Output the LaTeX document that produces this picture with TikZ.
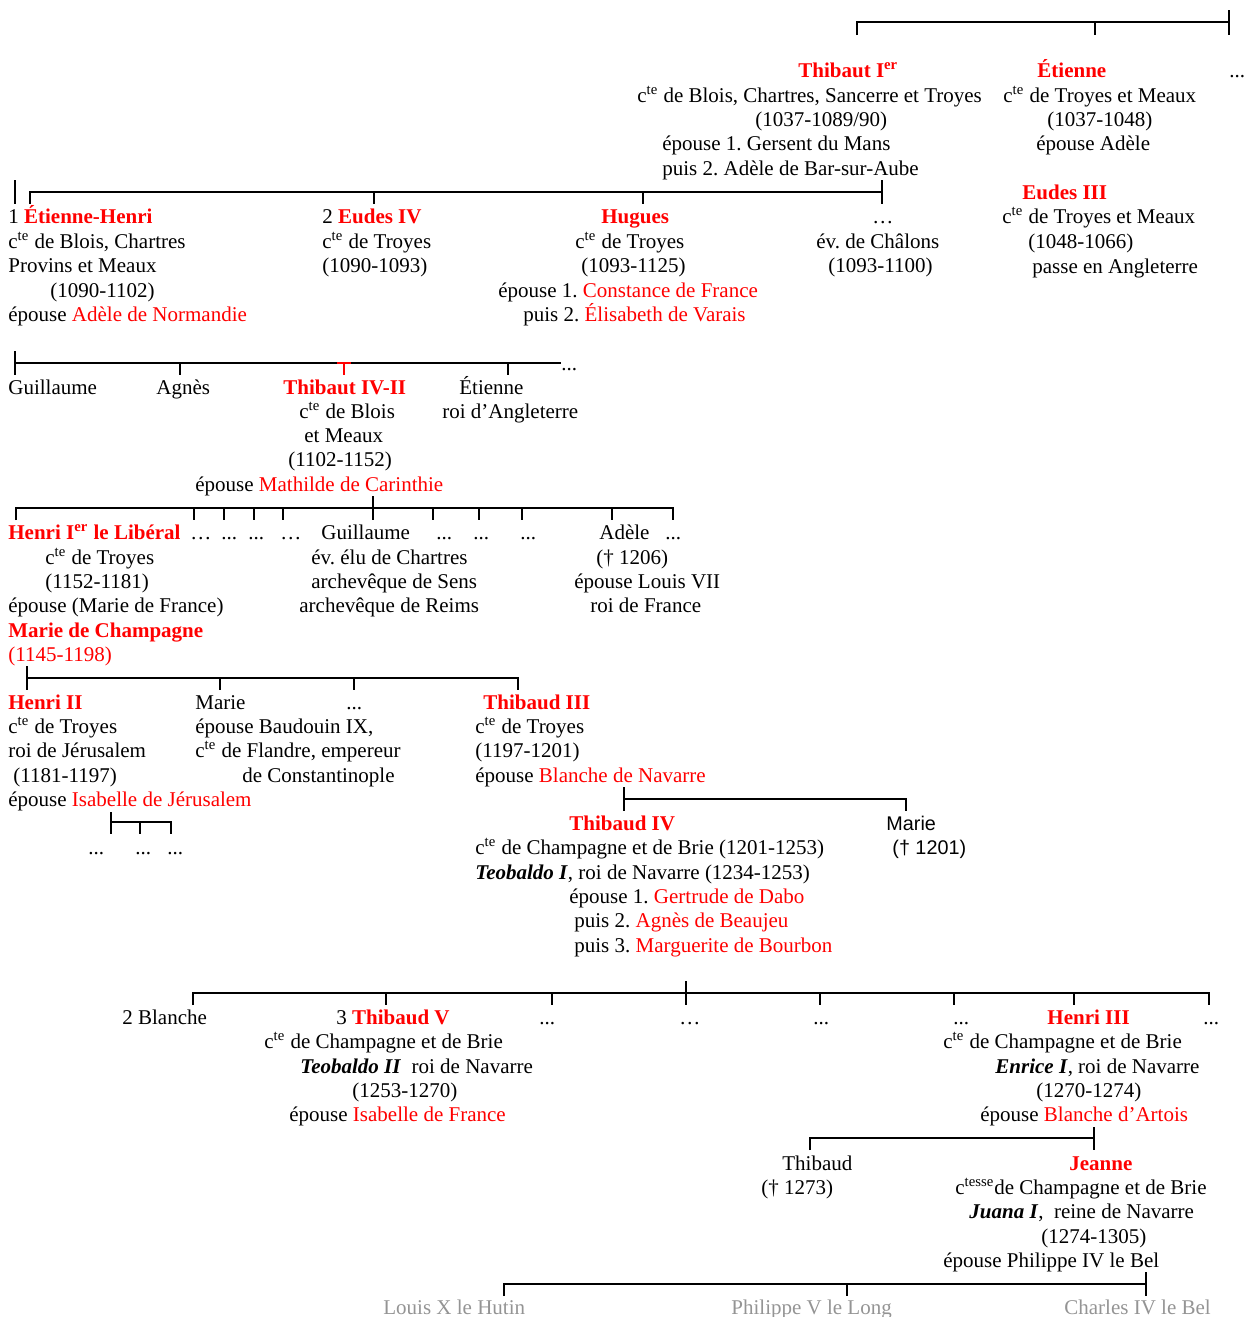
\documentclass[tikz,border=0pt]{standalone}
\usepackage{fontspec}
\setmainfont{Liberation Serif}
\newfontfamily\arial{Liberation Sans}
\usepackage{tikz}
\frenchspacing
\newcommand{\rednm}[1]{\textcolor{red}{\bfseries #1}}
\newcommand{\redtx}[1]{\textcolor{red}{#1}}
\newcommand{\cte}{c\textsuperscript{te}}
\begin{document}
\begin{tikzpicture}[line cap=butt,line join=miter,x=0.5pt,y=-0.5pt,
  lbl/.style={anchor=base west,inner sep=0pt,font=\fontsize{10.5}{12.25}\selectfont},
  nm/.style={lbl,text=red,font=\fontsize{10.5}{12.25}\selectfont\bfseries},
  kin/.style={lbl,text=black!42},
  bar/.style={line width=1pt}]
\useasboundingbox (0,0) rectangle (1243,1317);
% generation 1
\draw[bar] (857,35)--(857,22)--(1229,22) (1095,22)--(1095,35) (1229,10)--(1229,35);
\node[nm] (thib1) at (798,77) {Thibaut I\textsuperscript{er}};
\node[lbl] (thib1a) at (637,102) {\cte{} de Blois, Chartres, Sancerre et Troyes};
\node[lbl] (thib1b) at (755,126) {(1037-1089/90)};
\node[lbl] (thib1c) at (662,150) {épouse 1. Gersent du Mans};
\node[lbl] (thib1d) at (662,175) {puis 2. Adèle de Bar-sur-Aube};
\node[nm] (etie) at (1037,77) {Étienne};
\node[lbl] (etiea) at (1003,102) {\cte{} de Troyes et Meaux};
\node[lbl] (etieb) at (1047,126) {(1037-1048)};
\node[lbl] (etiec) at (1036,150) {épouse Adèle};
\node[lbl] (etc1) at (1229,77) {...};
\node[nm] (eud3) at (1022,199) {Eudes III};
\node[lbl] (eud3a) at (1002,223) {\cte{} de Troyes et Meaux};
\node[lbl] (eud3b) at (1028,248) {(1048-1066)};
\node[lbl] (eud3c) at (1032,273) {passe en Angleterre};
% generation 2
\draw[bar] (15,180)--(15,204);
\draw[bar] (30,204)--(30,192)--(882,192) (374,192)--(374,204) (643,192)--(643,204) (882,180)--(882,204);
\node[lbl] (ehen) at (8,223) {1 \rednm{Étienne-Henri}};
\node[lbl] (ehena) at (8,248) {\cte{} de Blois, Chartres};
\node[lbl] (ehenb) at (8,272) {Provins et Meaux};
\node[lbl] (ehenc) at (50,297) {(1090-1102)};
\node[lbl] (ehend) at (8,321) {épouse \redtx{Adèle de Normandie}};
\node[lbl] (eud4) at (322,223) {2 \rednm{Eudes IV}};
\node[lbl] (eud4a) at (322,248) {\cte{} de Troyes};
\node[lbl] (eud4b) at (322,272) {(1090-1093)};
\node[nm] (hug) at (601,223) {Hugues};
\node[lbl] (huga) at (575,248) {\cte{} de Troyes};
\node[lbl] (hugb) at (581,272) {(1093-1125)};
\node[lbl] (hugc) at (498,297) {épouse 1. \redtx{Constance de France}};
\node[lbl] (hugd) at (523,321) {puis 2. \redtx{Élisabeth de Varais}};
\node[lbl] (etc2) at (872,223) {…};
\node[lbl] (etc2a) at (816,248) {év. de Châlons};
\node[lbl] (etc2b) at (828,272) {(1093-1100)};
% generation 3
\draw[bar] (15,351)--(15,375) (15,363)--(561,363) (180,363)--(180,375) (508,363)--(508,375);
\draw[bar,red] (337,363)--(351,363) (344,363)--(344,375);
\node[lbl] (etc3) at (561,370) {...};
\node[lbl] (guil) at (8,394) {Guillaume};
\node[lbl] (agn) at (156,394) {Agnès};
\node[nm] (thib4) at (283,394) {Thibaut IV-II};
\node[lbl] (thib4a) at (299,418) {\cte{} de Blois};
\node[lbl] (thib4b) at (304,442) {et Meaux};
\node[lbl] (thib4c) at (288,466) {(1102-1152)};
\node[lbl] (thib4d) at (195,491) {épouse \redtx{Mathilde de Carinthie}};
\node[lbl] (etang) at (459,394) {Étienne};
\node[lbl] (etanga) at (442,418) {roi d’Angleterre};
% generation 4
\draw[bar] (16,520)--(16,508)--(673,508)--(673,520) (373,496)--(373,520);
\foreach \tx in {194,224,254,283,433,479,522,612}
  \draw[bar] (\tx,508)--(\tx,520);
\node[nm] (hen1) at (8,539) {Henri I\textsuperscript{er} le Libéral};
\node[lbl] (hen1a) at (45,564) {\cte{} de Troyes};
\node[lbl] (hen1b) at (45,588) {(1152-1181)};
\node[lbl] (hen1c) at (8,612) {épouse (Marie de France)};
\node[nm] (mchp) at (8,637) {Marie de Champagne};
\node[lbl,text=red] (mchpa) at (8,661) {(1145-1198)};
\node[lbl] (etc4a) at (190,539) {…};
\node[lbl] (etc4b) at (221,539) {...};
\node[lbl] (etc4c) at (248,539) {...};
\node[lbl] (etc4d) at (280,539) {…};
\node[lbl] (guil2) at (321,539) {Guillaume};
\node[lbl] (guil2a) at (311,564) {év. élu de Chartres};
\node[lbl] (guil2b) at (311,588) {archevêque de Sens};
\node[lbl] (guil2c) at (299,612) {archevêque de Reims};
\node[lbl] (etc4e) at (436,539) {...};
\node[lbl] (etc4f) at (473,539) {...};
\node[lbl] (etc4g) at (520,539) {...};
\node[lbl] (adel) at (599,539) {Adèle};
\node[lbl] (adela) at (596,564) {(† 1206)};
\node[lbl] (adelb) at (574,588) {épouse Louis VII};
\node[lbl] (adelc) at (590,612) {roi de France};
\node[lbl] (etc4h) at (665,539) {...};
% generation 5
\draw[bar] (27,666)--(27,690) (27,678)--(518,678)--(518,690) (220,678)--(220,690) (354,678)--(354,690);
\node[nm] (hen2) at (8,709) {Henri II};
\node[lbl] (hen2a) at (8,733) {\cte{} de Troyes};
\node[lbl] (hen2b) at (8,757) {roi de Jérusalem};
\node[lbl] (hen2c) at (13,782) {(1181-1197)};
\node[lbl] (hen2d) at (8,806) {épouse \redtx{Isabelle de Jérusalem}};
\draw[bar] (111,812)--(111,834) (111,822)--(171,822)--(171,834) (140,822)--(140,834);
\node[lbl] (etc5a) at (88,854) {...};
\node[lbl] (etc5b) at (135,854) {...};
\node[lbl] (etc5c) at (167,854) {...};
\node[lbl] (mar) at (195,709) {Marie};
\node[lbl] (mara) at (195,733) {épouse Baudouin IX,};
\node[lbl] (marb) at (195,757) {\cte{} de Flandre, empereur};
\node[lbl] (marc) at (242,782) {de Constantinople};
\node[lbl] (etc5d) at (346,709) {...};
\node[nm] (thib3) at (483,709) {Thibaud III};
\node[lbl] (thib3a) at (475,733) {\cte{} de Troyes};
\node[lbl] (thib3b) at (475,757) {(1197-1201)};
\node[lbl] (thib3c) at (475,782) {épouse \redtx{Blanche de Navarre}};
% generation 6
\draw[bar] (624,787)--(624,811) (624,799)--(906,799)--(906,811);
\node[nm] (thib4c) at (569,830) {Thibaud IV};
\node[lbl] (thib4ca) at (475,854) {\cte{} de Champagne et de Brie (1201-1253)};
\node[lbl] (thib4cb) at (475,879) {\textbf{\textit{Teobaldo I}}, roi de Navarre (1234-1253)};
\node[lbl] (thib4cc) at (569,903) {épouse 1. \redtx{Gertrude de Dabo}};
\node[lbl] (thib4cd) at (574,927) {puis 2. \redtx{Agnès de Beaujeu}};
\node[lbl] (thib4ce) at (574,952) {puis 3. \redtx{Marguerite de Bourbon}};
\node[lbl,font=\arial\fontsize{9.9}{12.25}\selectfont] (mar2) at (886,830) {Marie};
\node[lbl,font=\arial\fontsize{9.9}{12.25}\selectfont] (mar2a) at (892,854) {(† 1201)};
% generation 7
\draw[bar] (193,1005)--(193,993)--(1209,993)--(1209,1005) (686,981)--(686,1005);
\foreach \tx in {386,552,820,954,1074}
  \draw[bar] (\tx,993)--(\tx,1005);
\node[lbl] (blan) at (122,1024) {2 Blanche};
\node[lbl] (thib5) at (336,1024) {3 \rednm{Thibaud V}};
\node[lbl] (thib5a) at (264,1048) {\cte{} de Champagne et de Brie};
\node[lbl] (thib5b) at (300,1073) {\textbf{\textit{Teobaldo II}}\ \ roi de Navarre};
\node[lbl] (thib5c) at (352,1097) {(1253-1270)};
\node[lbl] (thib5d) at (289,1121) {épouse \redtx{Isabelle de France}};
\node[lbl] (etc7a) at (539,1024) {...};
\node[lbl] (etc7b) at (679,1024) {…};
\node[lbl] (etc7c) at (813,1024) {...};
\node[lbl] (etc7d) at (953,1024) {...};
\node[nm] (hen3) at (1047,1024) {Henri III};
\node[lbl] (etc7e) at (1203,1024) {...};
\node[lbl] (hen3a) at (943,1048) {\cte{} de Champagne et de Brie};
\node[lbl] (hen3b) at (995,1073) {\textbf{\textit{Enrice I}}, roi de Navarre};
\node[lbl] (hen3c) at (1036,1097) {(1270-1274)};
\node[lbl] (hen3d) at (980,1121) {épouse \redtx{Blanche d’Artois}};
% generation 8
\draw[bar] (810,1150)--(810,1138)--(1094,1138) (1094,1127)--(1094,1150);
\node[lbl] (thibd) at (782,1170) {Thibaud};
\node[lbl] (thibda) at (761,1194) {(† 1273)};
\node[nm] (jea) at (1069,1170) {Jeanne};
\node[lbl] (jeaa) at (955,1194) {c\textsuperscript{tesse}de Champagne et de Brie};
\node[lbl] (jeab) at (969,1218) {\textbf{\textit{Juana I}},\ \ reine de Navarre};
\node[lbl] (jeac) at (1041,1243) {(1274-1305)};
\node[lbl] (jead) at (943,1267) {épouse Philippe IV le Bel};
% generation 9
\draw[bar] (504,1296)--(504,1284)--(1146,1284) (847,1284)--(847,1296) (1146,1272)--(1146,1296);
\node[kin] (lou10) at (383,1314) {Louis X le Hutin};
\node[kin] (phi5) at (731,1314) {Philippe V le Long};
\node[kin] (cha4) at (1064,1314) {Charles IV le Bel};
\end{tikzpicture}
\end{document}
